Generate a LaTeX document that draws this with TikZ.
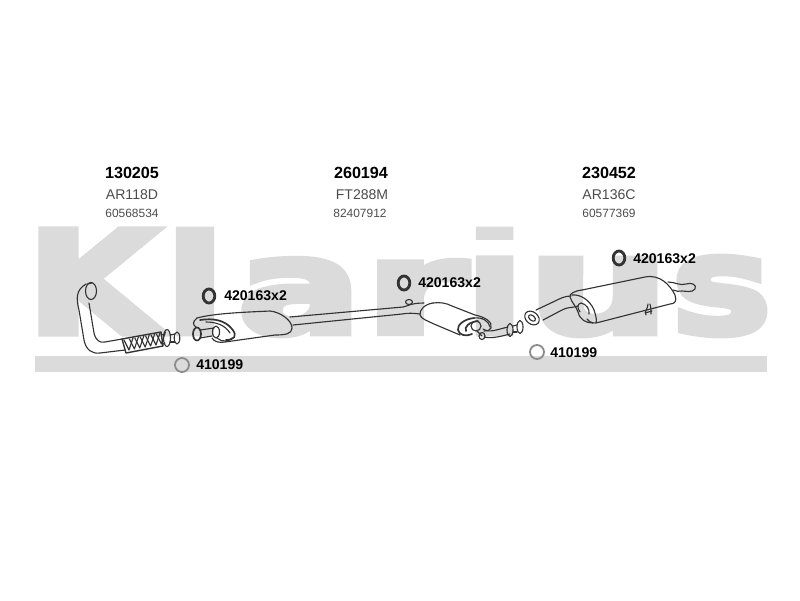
\documentclass[tikz,border=0pt]{standalone}
\usepackage{fontspec}
\setmainfont{Liberation Sans}
\newfontfamily\logofont[FakeBold=5]{DejaVu Sans Bold}
\usetikzlibrary{calc}
\definecolor{logogray}{gray}{0.86}
\definecolor{partgray}{gray}{0.2}
\tikzset{
	logoletter/.style={anchor=south west,inner sep=0pt,outer sep=0pt,text=logogray},
	partno/.style={font=\bfseries\fontsize{11.5}{12}\selectfont,inner sep=0pt,text=black},
	partcode/.style={font=\fontsize{10}{12}\selectfont,inner sep=0pt,text=black!70},
	partref/.style={font=\fontsize{8.5}{10}\selectfont,inner sep=0pt,text=black!70},
	ringlabel/.style={font=\bfseries\fontsize{10}{12}\selectfont,anchor=west,inner sep=0pt,text=black},
	partline/.style={draw=partgray,line width=0.8pt,line join=round,line cap=round},
}
\def\logoletter(#1,#2,#3,#4)#5{\node[logoletter] at (#1, #2) {\resizebox{\dimexpr 0.025cm*#3\relax}{\dimexpr 0.025cm*#4\relax}{\logofont #5}};}
\def\darkring(#1,#2){\draw[draw=black!80,line width=2pt] (#1, #2) ellipse (5.8 and 7);}
\def\grayring(#1,#2){\draw[draw=black!45,line width=1.3pt] (#1, #2) circle (7);}

\begin{document}
\begin{tikzpicture}[x=0.025cm,y=-0.025cm]
	%%%%% START %%%%%
	\useasboundingbox (0, 0) rectangle (800, 600);
	
	\logoletter(27,333,131,103){K}
	\logoletter(166,333,58,103){l}
	\logoletter(238,335,123,74){a}
	\logoletter(365,333,102,72){r}
	\logoletter(466,333,57,103){i}
	\fill[white] (466, 240) rectangle (523, 253);
	\logoletter(528,335,141,74){u}
	\logoletter(672,335,99,76){s}
	\fill[logogray] (35, 356) rectangle (767, 372);
	
	\node[partno] (noa) at (132, 173) {130205};
	\node[partcode] (codea) at (132, 195) {AR118D};
	\node[partref] (refa) at (132, 213) {60568534};
	
	\node[partno] (nob) at (361, 173) {260194};
	\node[partcode] (codeb) at (362, 195) {FT288M};
	\node[partref] (refb) at (360, 213) {82407912};
	
	\node[partno] (noc) at (609, 173) {230452};
	\node[partcode] (codec) at (609, 195) {AR136C};
	\node[partref] (refc) at (609, 213) {60577369};
	
	\darkring(209,296)
	\node[ringlabel] (ringa) at (224, 296) {420163x2};
	\darkring(404,283)
	\node[ringlabel] (ringb) at (418, 283) {420163x2};
	\darkring(619,258)
	\node[ringlabel] (ringc) at (633, 259) {420163x2};
	\grayring(182,365)
	\node[ringlabel] (gasketa) at (196, 365) {410199};
	\grayring(537,352)
	\node[ringlabel] (gasketb) at (550, 353) {410199};
	
	% front pipe
	\draw[partline] (86, 284) .. controls (76, 290) and (76, 298) .. (79, 310) -- (84, 340) .. controls (86, 350) and (92, 354) .. (100, 353) -- (125, 350);
	\draw[partline] (89, 303) -- (94, 333) .. controls (96, 341) and (100, 343) .. (105, 342) -- (122, 339);
	\draw[partline] (91, 291) ellipse (5.5 and 8.5);
	\draw[partline] (87, 284) -- (92, 283);
	\draw[partline,line width=1pt] (122, 339) -- (161, 332) -- (163, 346) -- (126, 353) -- cycle;
	\foreach \i in {0,...,6}
		\draw[partline] ($(124, 340)+(5.4*\i, -1*\i)$) -- ++(5, 10) -- ++(4, -12);
	\draw[partline] (161, 335) -- (165, 334);
	\draw[partline] (163, 344) -- (165, 343);
	\draw[partline] (167, 338) ellipse (3.5 and 8.5);
	\draw[partline] (170, 335) -- (175, 334);
	\draw[partline] (170, 342) -- (175, 342);
	\draw[partline] (177, 338) ellipse (2.8 and 6);
	
	% front silencer
	\draw[partline] (197, 318) .. controls (215, 313) and (250, 312) .. (270, 311) .. controls (280, 312) and (292, 320) .. (292, 328) .. controls (292, 334) and (285, 335) .. (275, 335) -- (225, 342) .. controls (220, 343) and (214, 342) .. (212, 338);
	\draw[partline] (197, 318) .. controls (192, 322) and (193, 325) .. (196, 327);
	\draw[partline,line width=1.2pt] (200, 320) .. controls (213, 318) and (225, 320) .. (232, 329) .. controls (238, 336) and (234, 340) .. (226, 340);
	\draw[partline] (206, 322) .. controls (216, 322) and (225, 325) .. (230, 333);
	\draw[partline,line width=1.2pt] (197, 334) ellipse (4 and 6.5);
	\draw[partline] (200, 330) -- (214, 328);
	\draw[partline] (200, 338) -- (212, 336);
	\draw[partline] (216, 332) ellipse (3.5 and 6);
	\draw[partline] (217, 338) .. controls (222, 343) and (230, 341) .. (232, 338);
	
	% intermediate pipe
	\draw[partline] (290, 317) -- (403, 307) .. controls (408, 306) and (411, 303) .. (424, 303);
	\draw[partline] (293, 325) -- (402, 314) .. controls (408, 313) and (412, 313) .. (420, 314);
	\draw[partline] (409, 302) ellipse (3.5 and 2.5);
	
	% centre silencer
	\draw[partline] (433, 303) .. controls (425, 304) and (419, 310) .. (420, 315) .. controls (421, 319) and (428, 321) .. (434, 324) -- (460, 335);
	\draw[partline] (433, 303) .. controls (440, 302) and (446, 303) .. (452, 306) -- (475, 315) .. controls (485, 317) and (493, 322) .. (491, 328) .. controls (490, 330) and (488, 331) .. (484, 331);
	\draw[partline,line width=1.2pt] (474, 318) .. controls (464, 319) and (457, 325) .. (458, 330) .. controls (459, 335) and (466, 337) .. (472, 334);
	\draw[partline,line width=1.2pt] (478, 321) .. controls (469, 322) and (464, 327) .. (466, 331);
	\draw[partline] (474, 318) .. controls (482, 317) and (489, 321) .. (490, 327);
	\draw[partline] (476, 326) ellipse (5 and 5);
	\draw[partline] (477, 331) -- (482, 336);
	\draw[partline] (483, 329) .. controls (490, 333) and (495, 330) .. (508, 327);
	\draw[partline] (484, 337) .. controls (492, 339) and (502, 336) .. (510, 334);
	\draw[partline] (482, 336) ellipse (3 and 3.5);
	\draw[partline] (510, 330) ellipse (3 and 6.5);
	\draw[partline] (520, 327) ellipse (3 and 6.5);
	\draw[partline] (513, 326) -- (517, 325);
	\draw[partline] (513, 332) -- (517, 332);
	
	% rear silencer
	\draw[partline,rotate around={-40:(532,318)}] (532, 318) ellipse (8 and 6);
	\draw[partline,rotate around={-40:(532,318)}] (532, 318) ellipse (4 and 2.5);
	\draw[partline] (536, 310) -- (553, 302) .. controls (561, 298) and (565, 296) .. (571, 296);
	\draw[partline] (543, 320) -- (562, 310) .. controls (567, 307) and (572, 308) .. (578, 306);
	\draw[partline] (582, 290) -- (645, 277) .. controls (660, 274) and (670, 285) .. (675, 295) .. controls (677, 301) and (675, 304) .. (670, 304) -- (600, 322) .. controls (594, 324) and (590, 323) .. (587, 319);
	\draw[partline] (582, 290) .. controls (574, 291) and (569, 294) .. (570, 297) .. controls (572, 303) and (576, 306) .. (578, 312) .. controls (580, 320) and (586, 323) .. (593, 323);
	\draw[partline] (572, 295) .. controls (580, 294) and (590, 300) .. (594, 310) .. controls (596, 316) and (597, 320) .. (596, 323);
	\draw[partline] (581, 303) .. controls (586, 304) and (590, 309) .. (589, 314);
	\draw[partline] (581, 303) .. controls (577, 304) and (577, 308) .. (580, 312);
	\draw[partline] (646, 315) .. controls (644, 311) and (648, 309) .. (648, 304);
	\draw[partline] (651, 314) .. controls (651, 310) and (651, 308) .. (650, 304);
	\draw[partline] (645, 313) -- (652, 311);
	\draw[partline] (668, 282) .. controls (675, 282) and (680, 286) .. (686, 284) .. controls (692, 282) and (697, 285) .. (695, 289) .. controls (692, 293) and (686, 291) .. (682, 291) .. controls (679, 292) and (676, 291) .. (673, 290);
	%%%%% END %%%%%
\end{tikzpicture}
\end{document}
